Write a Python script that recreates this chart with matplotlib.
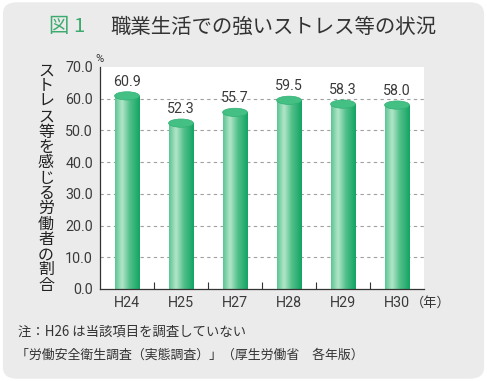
import matplotlib
matplotlib.use("Agg")
import matplotlib.pyplot as plt
import numpy as np
from matplotlib.patches import Ellipse, Rectangle, FancyBboxPatch
from matplotlib.colors import LinearSegmentedColormap
from matplotlib import font_manager

plt.rcParams['font.family'] = ['Noto Sans CJK JP', 'DejaVu Sans']

categories = ["H24", "H25", "H27", "H28", "H29", "H30"]
values = [60.9, 52.3, 55.7, 59.5, 58.3, 58.0]
yticks = [0, 10, 20, 30, 40, 50, 60, 70]

num_family = 'Roboto'
num_weight = 'normal'
num_size = 10.3
try:
    font_manager.findfont(font_manager.FontProperties(family='Liberation Sans Narrow'),
                          fallback_to_default=False)
    num_family = 'Liberation Sans Narrow'
    num_size = 11
except Exception:
    pass

fig = plt.figure(figsize=(4.87, 3.81), dpi=100)
fig.patch.set_facecolor('white')
bg = FancyBboxPatch((0.006, 0.006), 0.988, 0.988, boxstyle="round,pad=0,rounding_size=0.03",
                    transform=fig.transFigure, facecolor='#ebebeb', edgecolor='none', zorder=-10)
fig.patches.append(bg)

ax = fig.add_axes([100/487, 1-289/381, 324/487, 222/381])
ax.set_facecolor('white')
ax.set_xlim(-0.5, len(categories)-0.5)
ax.set_ylim(0, 70)

num_font = dict(family=[num_family, 'DejaVu Sans'], fontsize=num_size, color='#3a3a3a',
                fontweight=num_weight)

ax.set_yticks(yticks)
ax.set_yticklabels([f"{v:.1f}" for v in yticks], **num_font)
ax.tick_params(axis='y', length=0, pad=5)
ax.set_xticks(np.arange(0.5, len(categories)-1, 1.0))
ax.set_xticklabels([])
ax.tick_params(axis='x', direction='in', length=5, color='#333333', width=0.8)
for i, c in enumerate(categories):
    ax.text(i, -4.4, c, ha='center', va='center', **num_font)
ax.text(5.25, -4.4, "（年）", ha='left', va='center', fontsize=9.5, color='#333333')
ax.text(-0.5, 71.0, "%", ha='center', va='bottom', fontsize=8, color='#333333',
        family=[num_family, 'DejaVu Sans'])

for s in ['top', 'right']:
    ax.spines[s].set_visible(False)
for s in ['left', 'bottom']:
    ax.spines[s].set_color('#333333')
    ax.spines[s].set_linewidth(0.9)

for y in yticks[1:-1]:
    ax.axhline(y, color='#a0a0a0', lw=0.8, ls=(0, (3, 3)), zorder=0)

cmap = LinearSegmentedColormap.from_list('cyl', [
    (0.0, '#5cc592'), (0.28, '#b3e6ca'), (0.6, '#52c08a'), (1.0, '#13a463')])
grad = np.linspace(0, 1, 100).reshape(1, -1)
w = 0.46
eh = 2.6
for i, v in enumerate(values):
    rect = Rectangle((i - w/2, 0), w, v, facecolor='none', edgecolor='none')
    ax.add_patch(rect)
    im = ax.imshow(grad, cmap=cmap, extent=[i - w/2, i + w/2, 0, v], aspect='auto',
                   zorder=2, interpolation='bicubic')
    im.set_clip_path(rect)
    ax.add_patch(Ellipse((i, v), w, eh, facecolor='#45c085', edgecolor='#2fb072', lw=0.5, zorder=3))
    ax.text(i, v + 4.5, f"{v:.1f}", ha='center', va='center', zorder=4, **num_font)

fig.text(49/487, 1-27/381, "図 1", color='#3dab6f', fontsize=14.7, va='center', ha='left')
fig.text(110/487, 1-27/381, "職業生活での強いストレス等の状況", color='#333333', fontsize=14.7,
         va='center', ha='left')

ylabel = "ストレス等を感じる労働者の割合"
fig.text(46/487, 1-178/381, "\n".join(ylabel), ha='center', va='center', fontsize=11.5,
         linespacing=0.87, color='#222222')

fig.text(18/487, 1-332/381, "注：H26 は当該項目を調査していない", fontsize=9.6, color='#333333',
         va='center', ha='left')
fig.text(16/487, 1-355/381, "「労働安全衛生調査（実態調査）」（厚生労働省　各年版）", fontsize=9.3,
         color='#333333', va='center', ha='left')

fig.savefig("out.png", dpi=100, facecolor='white')
